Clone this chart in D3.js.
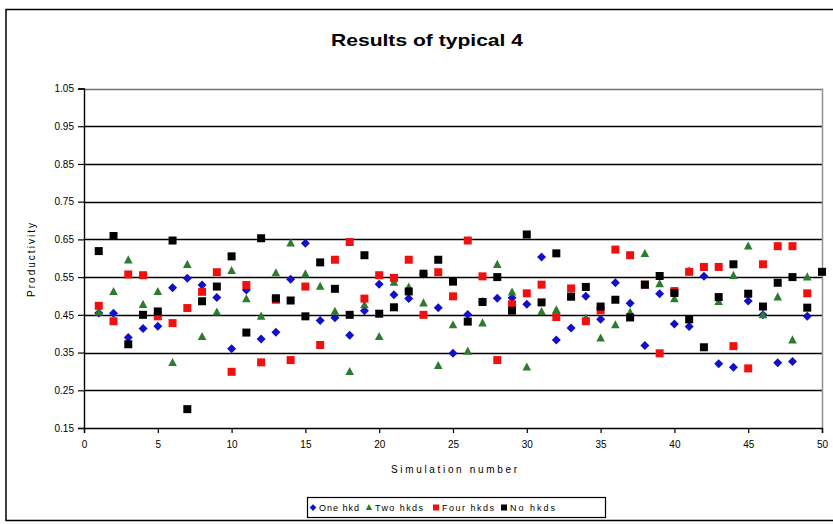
<!DOCTYPE html>
<html>
<head>
<meta charset="utf-8">
<script src="https://cdn.jsdelivr.net/npm/d3@7"></script>
<style>
  body { margin: 0; background: #fff; }
  text { font-family: "Liberation Sans", Arial, sans-serif; }
</style>
</head>
<body>
<div id="container"></div>
<script>
// valores (simulacion 1..49, negro 1..50)
var oneHkd = [0.455, 0.454, 0.39, 0.414, 0.42, 0.522, 0.547, 0.529, 0.496, 0.36,
  0.516, 0.386, 0.404, 0.544, 0.64, 0.435, 0.442, 0.396, 0.461, 0.531,
  0.503, 0.493, 0.558, 0.469, 0.348, 0.451, 0.485, 0.494, 0.495, 0.478,
  0.603, 0.383, 0.415, 0.499, 0.438, 0.535, 0.481, 0.369, 0.506, 0.426,
  0.419, 0.552, 0.32, 0.311, 0.487, 0.45, 0.323, 0.326, 0.446];
var twoHkds = [0.457, 0.511, 0.595, 0.477, 0.511, 0.323, 0.583, 0.392, 0.457, 0.567,
  0.492, 0.446, 0.561, 0.64, 0.558, 0.525, 0.459, 0.299, 0.476, 0.392,
  0.536, 0.523, 0.481, 0.315, 0.423, 0.353, 0.428, 0.583, 0.51, 0.311,
  0.458, 0.463, 0.5, 0.441, 0.388, 0.423, 0.456, 0.612, 0.532, 0.492,
  0.566, 0.575, 0.485, 0.554, 0.632, 0.45, 0.497, 0.383, 0.55];
var fourHkds = [0.474, 0.433, 0.557, 0.555, 0.446, 0.428, 0.468, 0.511, 0.563, 0.299,
  0.529, 0.324, 0.49, 0.33, 0.525, 0.37, 0.596, 0.643, 0.493, 0.555,
  0.548, 0.596, 0.45, 0.563, 0.499, 0.647, 0.552, 0.33, 0.478, 0.507,
  0.53, 0.444, 0.52, 0.433, 0.462, 0.623, 0.608, 0.53, 0.348, 0.513,
  0.564, 0.577, 0.577, 0.367, 0.308, 0.584, 0.632, 0.632, 0.507];
var noHkds = [0.619, 0.659, 0.372, 0.45, 0.459, 0.647, 0.2, 0.486, 0.525, 0.605,
  0.403, 0.653, 0.494, 0.488, 0.446, 0.589, 0.519, 0.45, 0.608, 0.453,
  0.47, 0.512, 0.559, 0.596, 0.538, 0.432, 0.484, 0.55, 0.461, 0.663,
  0.483, 0.613, 0.498, 0.524, 0.472, 0.49, 0.443, 0.53, 0.553, 0.508,
  0.438, 0.364, 0.497, 0.584, 0.506, 0.472, 0.535, 0.55, 0.469, 0.564];

var seriesNames = ["One hkd", "Two hkds", "Four hkds", "No hkds"];
var yTicks = [0.15, 0.25, 0.35, 0.45, 0.55, 0.65, 0.75, 0.85, 0.95, 1.05];
var xTicks = [0, 5, 10, 15, 20, 25, 30, 35, 40, 45, 50];

var series = [
  { name: seriesNames[0], values: oneHkd, color: "#1010c8", shape: "diamond" },
  { name: seriesNames[1], values: twoHkds, color: "#2e7b2e", shape: "triangle" },
  { name: seriesNames[2], values: fourHkds, color: "#f01010", shape: "square" },
  { name: seriesNames[3], values: noHkds, color: "#000000", shape: "square" }
];

var Width = 833, Height = 524;
var plot = { left: 84, right: 822, top: 88.5, bottom: 428 };

var svg = d3.select("#container").append("svg")
  .attr("width", Width)
  .attr("height", Height);

// borde del grafico
svg.append("rect")
  .attr("x", 6).attr("y", 9.5)
  .attr("width", 840).attr("height", 511)
  .attr("fill", "#fff")
  .attr("stroke", "#000")
  .attr("stroke-width", 1.5);

var x = d3.scaleLinear().domain([0, 50]).range([plot.left, plot.right]);
var y = d3.scaleLinear().domain([0.15, 1.05]).range([plot.bottom, plot.top]);

// lineas de grilla
svg.append("g").selectAll("line")
  .data(yTicks.slice(1))
  .enter().append("line")
  .attr("x1", plot.left).attr("x2", plot.right)
  .attr("y1", function (d) { return Math.round(y(d)) + 0.5; })
  .attr("y2", function (d) { return Math.round(y(d)) + 0.5; })
  .attr("stroke", function (d) { return d === 1.05 ? "#707070" : "#000"; })
  .attr("stroke-width", 1.5);

// borde derecho del area
svg.append("line")
  .attr("x1", plot.right + 0.5).attr("x2", plot.right + 0.5)
  .attr("y1", plot.top).attr("y2", plot.bottom)
  .attr("stroke", "#909090").attr("stroke-width", 1.5);

// ejes
var yAxis = svg.append("g")
  .attr("transform", "translate(" + plot.left + ",0)")
  .call(d3.axisLeft(y).tickValues(yTicks).tickFormat(d3.format(".2f")).tickSizeOuter(0).tickSize(6).tickPadding(4));
var xAxis = svg.append("g")
  .attr("transform", "translate(0," + plot.bottom + ")")
  .call(d3.axisBottom(x).tickValues(xTicks).tickFormat(d3.format("d")).tickSizeOuter(0).tickSize(5).tickPadding(8));

[yAxis, xAxis].forEach(function (g) {
  g.select(".domain").attr("stroke", "#000").attr("stroke-width", 1.4);
  g.selectAll(".tick line").attr("stroke", "#000").attr("stroke-width", 1.2);
  g.selectAll(".tick text").attr("font-size", 10).attr("fill", "#000")
    .style("font-family", "'Liberation Sans', Arial, sans-serif");
});

// titulo y etiquetas
svg.append("text")
  .text("Results of typical 4")
  .attr("x", 427).attr("y", 46)
  .attr("text-anchor", "middle")
  .attr("font-size", 17).attr("font-weight", "bold")
  .attr("textLength", 192).attr("lengthAdjust", "spacingAndGlyphs");

svg.append("text")
  .text("Simulation number")
  .attr("x", 454).attr("y", 473)
  .attr("text-anchor", "middle")
  .attr("font-size", 10)
  .attr("textLength", 126).attr("lengthAdjust", "spacing");

svg.append("text")
  .text("Productivity")
  .attr("transform", "translate(35,260) rotate(-90)")
  .attr("text-anchor", "middle")
  .attr("font-size", 10)
  .attr("textLength", 74).attr("lengthAdjust", "spacing");

// simbolos
function symbolPath(shape) {
  if (shape === "diamond") return "M0,-4.5L4.5,0L0,4.5L-4.5,0Z";
  if (shape === "triangle") return "M0,-4.8L4.3,3.3L-4.3,3.3Z";
  return "M-4,-4L4,-4L4,4L-4,4Z";
}

series.forEach(function (s) {
  svg.append("g").selectAll("path")
    .data(s.values)
    .enter().append("path")
    .attr("d", symbolPath(s.shape))
    .attr("transform", function (d, i) { return "translate(" + x(i + 1) + "," + y(d) + ")"; })
    .attr("fill", s.color);
});

// leyenda
var legend = svg.append("g");
legend.append("rect")
  .attr("x", 307.5).attr("y", 497.5)
  .attr("width", 298).attr("height", 20)
  .attr("fill", "#fff").attr("stroke", "#000").attr("stroke-width", 1.2);

var legendX = [313, 369, 436, 504];
var legendW = [40, 48, 52, 45];
series.forEach(function (s, i) {
  legend.append("path")
    .attr("d", symbolPath(s.shape))
    .attr("transform", "translate(" + legendX[i] + ",507.5) scale(0.75)")
    .attr("fill", s.color);
  legend.append("text")
    .text(s.name)
    .attr("x", legendX[i] + 6).attr("y", 511)
    .attr("font-size", 9)
    .attr("textLength", legendW[i]).attr("lengthAdjust", "spacing");
});
</script>
</body>
</html>
